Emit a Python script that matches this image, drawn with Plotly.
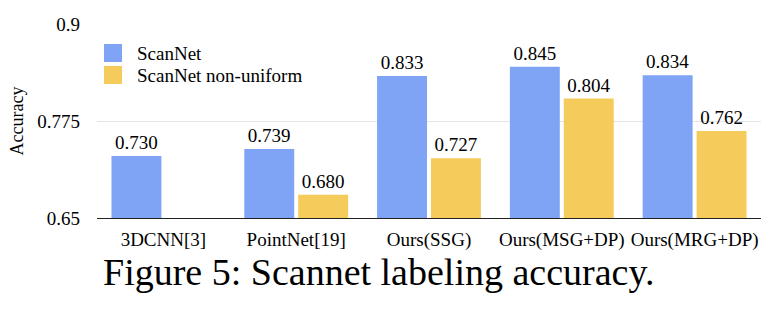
import plotly.graph_objects as go

categories = ["3DCNN[3]", "PointNet[19]", "Ours(SSG)", "Ours(MSG+DP)", "Ours(MRG+DP)"]
series_names = ["ScanNet", "ScanNet non-uniform"]
scannet = [0.730, 0.739, 0.833, 0.845, 0.834]
scannet_nonuniform = [None, 0.680, 0.727, 0.804, 0.762]
y_tickvals = [0.65, 0.775, 0.9]
y_ticktext = ["0.65", "0.775", "0.9"]
colors = ["#7FA4F5", "#F5CB5C"]
caption = "Figure 5: Scannet labeling accuracy."

FONT = "Liberation Serif, Times New Roman, serif"

def labels(vals):
    return [("%.3f" % v) if v is not None else "" for v in vals]

fig = go.Figure()
for name, vals, col in zip(series_names, [scannet, scannet_nonuniform], colors):
    fig.add_trace(go.Bar(
        x=categories, y=vals, name=name, marker_color=col, marker_line_width=0,
        text=labels(vals), textposition="outside", cliponaxis=False,
        textfont=dict(family=FONT, size=19, color="black"),
        showlegend=False,
    ))

# plot area in pixels
L, R, T, B = 97, 23, 24, 94
W, H = 784, 312
pw = W - L - R
ph = H - T - B

def px_x(x):
    return (x - L) / pw

def px_y(y):
    return (H - B - y) / ph

shapes = []
annotations = []
# manual legend
for i, (name, col) in enumerate(zip(series_names, colors)):
    top = 44 + 22 * i
    shapes.append(dict(type="rect", xref="paper", yref="paper",
                       x0=px_x(104), x1=px_x(122), y0=px_y(top + 18), y1=px_y(top),
                       fillcolor=col, line_width=0))
    annotations.append(dict(text=name, xref="paper", yref="paper",
                            x=px_x(135), y=px_y(top + 9), xanchor="left", yanchor="middle",
                            showarrow=False, font=dict(family=FONT, size=19, color="black")))

annotations.append(dict(text="Accuracy", xref="paper", yref="paper", textangle=-90,
                        x=px_x(16), y=px_y(121.5), xanchor="center", yanchor="middle",
                        showarrow=False, font=dict(family=FONT, size=18, color="black")))
annotations.append(dict(text=caption, xref="paper", yref="paper",
                        x=px_x(101), y=px_y(272), xanchor="left", yanchor="middle",
                        showarrow=False, font=dict(family=FONT, size=38, color="black")))

fig.update_layout(
    width=W, height=H,
    margin=dict(l=L, r=R, t=T, b=B, pad=0),
    paper_bgcolor="white", plot_bgcolor="white",
    barmode="group", bargap=0.188, bargroupgap=0.074,
    font=dict(family=FONT, size=19, color="black"),
    shapes=shapes, annotations=annotations,
    xaxis=dict(showgrid=False, showline=True, linecolor="#222", linewidth=1,
               ticks="", tickfont=dict(family=FONT, size=19, color="black"),
               ticklabelstandoff=4),
    yaxis=dict(range=[0.65, 0.9], tickvals=y_tickvals, ticktext=y_ticktext,
               showgrid=True, gridcolor="#e3e3e3", gridwidth=1, zeroline=False,
               showline=False, ticks="", ticklabelstandoff=16,
               tickfont=dict(family=FONT, size=19, color="black")),
)

fig.write_html("out.html")
